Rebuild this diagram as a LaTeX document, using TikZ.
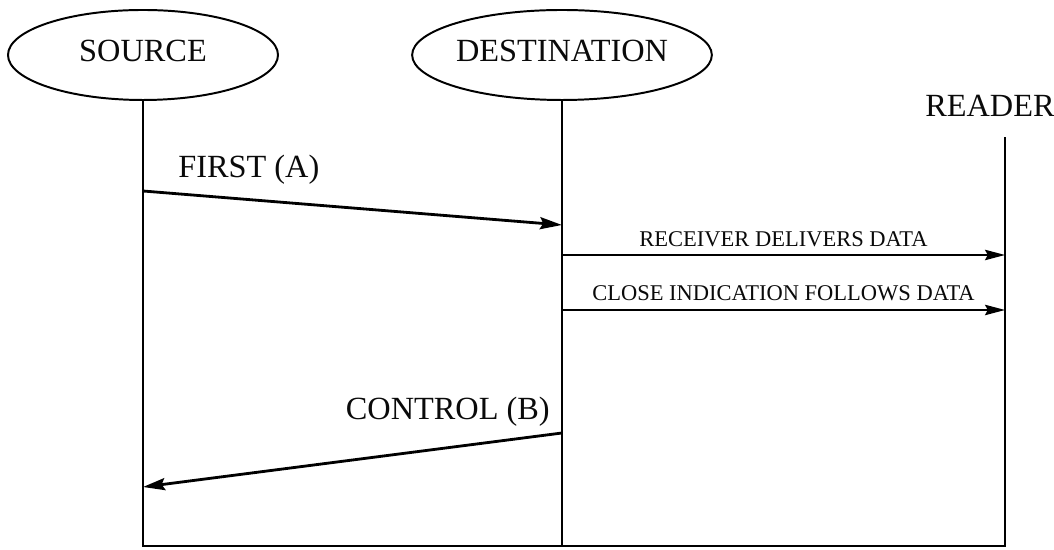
\documentclass[tikz,border=0pt]{standalone}
\usepackage{fontspec}
\setmainfont{Liberation Serif}
\usetikzlibrary{arrows.meta,shapes.geometric}
\definecolor{flowline}{HTML}{000000}
\definecolor{flowtext}{HTML}{0A0A0A}
\tikzset{
  flow party/.style={
    ellipse, draw=flowline, line width=1.4pt,
    minimum width=6.75cm, minimum height=2.25cm, inner sep=0pt,
    text depth=6pt,
    text=flowtext, font=\fontsize{23}{27}\selectfont
  },
  flow life/.style={draw=flowline, line width=1.1pt},
  flow arrow/.style={
    draw=flowline, line width=2pt,
    -{Stealth[length=5.5mm,width=3mm,inset=0.8mm]}
  },
  flow thin arrow/.style={
    flow arrow, line width=1.4pt,
    -{Stealth[length=5mm,width=2.6mm,inset=0.7mm]}
  },
  flow label/.style={text=flowtext, font=\fontsize{23}{27}\selectfont, inner sep=0pt},
  flow note/.style={flow label, font=\fontsize{16}{19}\selectfont}
}

\begin{document}
\begin{tikzpicture}
  \useasboundingbox (0,0) rectangle (26.35,13.75);

  % parties
  \node[flow party] (source) at (3.575,12.375) {SOURCE};
  \node[flow party] (dest) at (14.05,12.375) {DESTINATION};
  \node[flow label,anchor=base west] (reader) at (23.125,10.825) {READER};

  % lifelines, joined along the bottom
  \coordinate (readertop) at (25.125,10.325);
  \coordinate (readerbot) at (25.125,0.1);
  \draw[flow life] (source.south) |- (readerbot) -- (readertop);
  \draw[flow life] (dest.south) -- (dest.south |- readerbot);

  % source -> destination
  \coordinate (firstout) at (source.south |- 0,8.975);
  \coordinate (firstin) at (dest.south |- 0,8.125);
  \draw[flow arrow] (firstout) -- (firstin);
  \node[flow label,anchor=base west] (firstlbl) at (4.45,9.3) {FIRST (A)};

  % destination -> reader
  \coordinate (recvout) at (dest.south |- 0,7.375);
  \coordinate (recvin) at (readertop |- 0,7.375);
  \draw[flow thin arrow] (recvout) -- (recvin)
    node[flow note,midway,above=5pt] (recvlbl) {RECEIVER DELIVERS DATA};
  \coordinate (closeout) at (dest.south |- 0,6.0);
  \coordinate (closein) at (readertop |- 0,6.0);
  \draw[flow thin arrow] (closeout) -- (closein)
    node[flow note,midway,above=6pt] (closelbl) {CLOSE INDICATION FOLLOWS DATA};

  % destination -> source
  \coordinate (ctrlout) at (dest.south |- 0,2.925);
  \coordinate (ctrlin) at (source.south |- 0,1.575);
  \draw[flow arrow] (ctrlout) -- (ctrlin);
  \node[flow label,anchor=base east] (ctrllbl) at (13.75,3.25) {CONTROL (B)};
\end{tikzpicture}
\end{document}
